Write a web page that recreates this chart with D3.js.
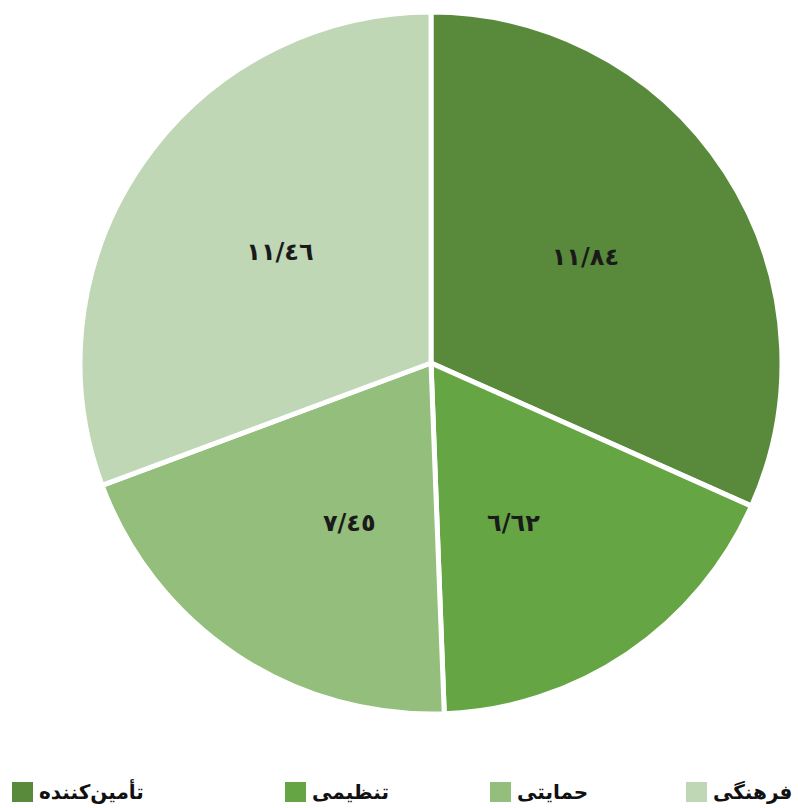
<!DOCTYPE html>
<html lang="fa">
<head>
<meta charset="UTF-8">
<script src="https://d3js.org/d3.v7.min.js"></script>
<title>pie</title>
<style>
  body { margin: 0; background: #fff; }
  text { font-family: "DejaVu Sans", sans-serif; font-weight: bold; }
</style>
</head>
<body>
<svg width="798" height="808"></svg>
<script>
  // data
  var categories = ["تأمین‌کننده", "تنظیمی", "حمایتی", "فرهنگی"];
  var values = [11.84, 6.62, 7.45, 11.46];
  var valueLabels = ["١١/٨٤", "٦/٦٢", "٧/٤٥", "١١/٤٦"];
  var colors = ["#598a3c", "#66a543", "#93be7c", "#bfd7b5"];

  var svg = d3.select("svg");
  var cx = 431, cy = 363, radius = 351;

  var pie = d3.pie().sort(null).value(function(d) { return d; });
  var arc = d3.arc().innerRadius(0).outerRadius(radius);
  var labelArc = d3.arc().innerRadius(184).outerRadius(184);

  var g = svg.append("g").attr("transform", "translate(" + cx + "," + cy + ")");

  var slices = g.selectAll("g.slice")
    .data(pie(values))
    .enter()
    .append("g")
    .attr("class", "slice");

  slices.append("path")
    .attr("d", arc)
    .attr("fill", function(d, i) { return colors[i]; })
    .attr("stroke", "#fff")
    .attr("stroke-width", 5)
    .attr("stroke-linejoin", "round");

  slices.append("text")
    .attr("transform", function(d) {
      var c = labelArc.centroid(d);
      // lower slices: labels sit closer to the vertical and a bit lower
      var a = (d.startAngle + d.endAngle) / 2;
      if (a > Math.PI / 2 && a < 3 * Math.PI / 2) { c[0] *= 0.8; c[1] += 13; }
      return "translate(" + c + ")";
    })
    .attr("text-anchor", "middle")
    .attr("dy", "0.1em")
    .attr("font-size", 24)
    .attr("fill", "#1a1a1a")
    .text(function(d, i) { return valueLabels[i]; });

  // legend
  var legendX = [12, 285, 490, 686];
  var legend = svg.append("g").attr("transform", "translate(0,782)");
  var items = legend.selectAll("g.item")
    .data(categories)
    .enter()
    .append("g")
    .attr("class", "item")
    .attr("transform", function(d, i) { return "translate(" + legendX[i] + ",0)"; });

  items.append("rect")
    .attr("width", 21)
    .attr("height", 20)
    .attr("fill", function(d, i) { return colors[i]; });

  items.append("text")
    .attr("x", 27)
    .attr("y", 17)
    .attr("font-size", 20)
    .attr("fill", "#111")
    .text(function(d) { return d; });
</script>
</body>
</html>
